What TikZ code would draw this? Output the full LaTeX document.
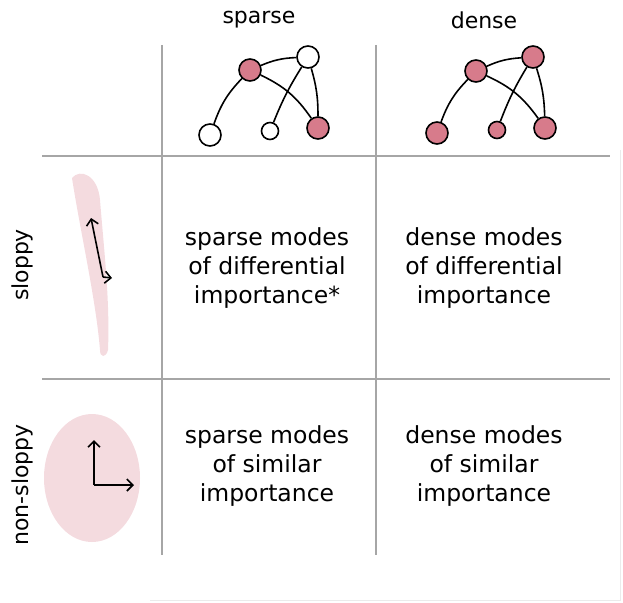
\documentclass[tikz,border=0pt]{standalone}
\usepackage{fontspec}
\setmainfont{DejaVu Sans}
\usetikzlibrary{arrows.meta}
\definecolor{blob}{RGB}{205,90,110}
\begin{document}
\begin{tikzpicture}[x=1pt,y=-1pt,
  grid/.style={draw=black!35,line width=1.5pt},
  gnode/.style={circle,draw=black,line width=1.6pt,inner sep=0pt,minimum width=19pt,minimum height=22pt},
  red/.style={fill=blob!80},
  white/.style={fill=white},
  edge/.style={line width=1.6pt},
  cell/.style={align=center,font=\fontsize{23.5}{29}\selectfont},
  lab/.style={font=\fontsize{22}{24}\selectfont},
  ax/.style={line width=1.6pt,-{Straight Barb[length=6pt]}}]
\useasboundingbox (0,0) rectangle (623,602);
\draw[black!8] (150,600) -- (620,600) -- (620,150);
\draw[grid] (162,45) -- (162,555);
\draw[grid] (376,45) -- (376,555);
\draw[grid] (42,156) -- (610,156);
\draw[grid] (42,379) -- (610,379);
\node[lab] (ls) at (259,20) {sparse};
\node[lab] (ld) at (484,20) {dense};
\node[lab,rotate=90] (lsl) at (22,265) {sloppy};
\node[lab,rotate=90] (lns) at (22,485) {non-sloppy};
% sparse graph
\node[gnode,red] (a1) at (250,70) {};
\node[gnode,white] (b1) at (308,57) {};
\node[gnode,white] (c1) at (210,135) {};
\node[gnode,white,minimum width=14pt,minimum height=17pt] (d1) at (270,131) {};
\node[gnode,red] (e1) at (318,128) {};
\draw[edge] (a1) to[bend left=10] (b1);
\draw[edge] (a1) to[bend right=12] (c1);
\draw[edge] (a1) to[bend left=15] (e1);
\draw[edge] (b1) to[bend right=5] (d1);
\draw[edge] (b1) to[bend left=8] (e1);
% dense graph
\node[gnode,red] (a2) at (476,71) {};
\node[gnode,red] (b2) at (533,57) {};
\node[gnode,red] (c2) at (437,133) {};
\node[gnode,red,minimum width=14pt,minimum height=17pt] (d2) at (497,130) {};
\node[gnode,red] (e2) at (545,128) {};
\draw[edge] (a2) to[bend left=10] (b2);
\draw[edge] (a2) to[bend right=12] (c2);
\draw[edge] (a2) to[bend left=15] (e2);
\draw[edge] (b2) to[bend right=5] (d2);
\draw[edge] (b2) to[bend left=8] (e2);
% cells
\node[cell] (t1) at (267,268) {sparse modes\\of differential\\importance*};
\node[cell] (t2) at (484,268) {dense modes\\of differential\\importance};
\node[cell] (t3) at (267,466) {sparse modes\\of similar\\importance};
\node[cell] (t4) at (484,466) {dense modes\\of similar\\importance};
% blobs
\fill[blob,opacity=0.22] (72,178) .. controls (80,168) and (98,175) .. (100,200)
  .. controls (104,250) and (110,300) .. (108,350) .. controls (106,358) and (100,358) .. (100,350)
  .. controls (96,300) and (80,230) .. (72,178) -- cycle;
\fill[blob,opacity=0.22] (92,478) ellipse [x radius=48, y radius=64];
\coordinate (s0) at (103,277);
\coordinate (s1) at (91,218);
\coordinate (s2) at (112,278);
\draw[ax] (s0) -- (s1);
\draw[ax] (s0) -- (s2);
\coordinate (n0) at (94,485);
\coordinate (n1) at (94,440);
\coordinate (n2) at (134,485);
\draw[ax] (n0) -- (n1);
\draw[ax] (n0) -- (n2);
\end{tikzpicture}
\end{document}
